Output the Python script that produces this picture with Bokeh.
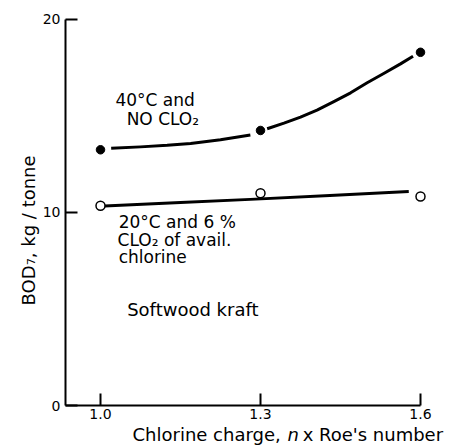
import math
from bokeh.plotting import figure
from bokeh.models import Range1d, FixedTicker, Label
from bokeh.embed import file_html
from bokeh.resources import INLINE

# ---- data ----
charge = [1.0, 1.3, 1.6]
bod_40C_no_clo2 = [13.25, 14.25, 18.3]
bod_20C_6pct_clo2 = [10.35, 11.0, 10.83]

# hand-drawn fitted curves
fit40_x_a = [1.02, 1.075, 1.125, 1.169, 1.225, 1.281]
fit40_y_a = [13.33, 13.40, 13.48, 13.58, 13.77, 14.02]
fit40_x_b = [1.3125, 1.344, 1.375, 1.406, 1.4375, 1.469, 1.5, 1.531, 1.5625, 1.586]
fit40_y_b = [14.34, 14.63, 14.94, 15.30, 15.74, 16.20, 16.72, 17.20, 17.70, 18.10]
fit20_x = [1.0075, 1.15, 1.281, 1.43, 1.578]
fit20_y = [10.34, 10.52, 10.68, 10.88, 11.09]

x_ticks = [1.0, 1.3, 1.6]
y_ticks = [0, 10, 20]
x_axis_extent = (0.9344, 1.6)
y_axis_extent = (0, 20)

FONT = "DejaVu Sans"

p = figure(width=452, height=446,
           x_range=Range1d(0.8125, 1.66), y_range=Range1d(-2.124, 20.984),
           output_backend="svg", toolbar_location=None)
p.min_border = 0
p.min_border_left = 0
p.min_border_right = 0
p.min_border_top = 0
p.min_border_bottom = 0
p.outline_line_color = None
p.xgrid.visible = False
p.ygrid.visible = False
p.background_fill_color = "white"
p.border_fill_color = "white"

for ax in (p.xaxis[0], p.yaxis[0]):
    ax.axis_line_width = 2
    ax.axis_line_color = "black"
    ax.major_tick_line_width = 2
    ax.major_tick_line_color = "black"
    ax.major_tick_in = 12
    ax.major_tick_out = 0
    ax.minor_tick_line_color = None
    ax.major_label_text_font = FONT
    ax.major_label_text_font_size = "14px"
    ax.major_label_text_color = "black"

p.xaxis[0].ticker = FixedTicker(ticks=x_ticks)
p.xaxis[0].major_label_overrides = {1.0: "1.0", 1.3: "1.3", 1.6: "1.6"}
p.xaxis[0].major_label_standoff = 3
p.xaxis[0].fixed_location = y_axis_extent[0]
p.xaxis[0].bounds = x_axis_extent
p.yaxis[0].ticker = FixedTicker(ticks=y_ticks)
p.yaxis[0].major_label_standoff = 5
p.yaxis[0].fixed_location = x_axis_extent[0]
p.yaxis[0].bounds = y_axis_extent

# curves
p.line(fit40_x_a, fit40_y_a, line_width=3, line_color="black", line_join="round")
p.line(fit40_x_b, fit40_y_b, line_width=3, line_color="black", line_join="round")
p.line(fit20_x, fit20_y, line_width=3, line_color="black", line_join="round")

# points
p.scatter(charge, bod_40C_no_clo2, size=8.5, fill_color="black", line_color="black")
p.scatter(charge, bod_20C_6pct_clo2, size=9, fill_color="white",
          line_color="black", line_width=1.5)

def lab(x, y, text, size="17px", align="left", style="normal", angle=0):
    p.add_layout(Label(x=x, y=y, text=text, text_font=FONT,
                       text_font_size=size, text_align=align,
                       text_baseline="middle", text_font_style=style,
                       text_color="black", angle=angle))

lab(1.028, 15.85, "40°C and")
lab(1.049, 14.87, "NO CLO₂")
lab(1.034, 9.53, "20°C and 6 %")
lab(1.032, 8.55, "CLO₂ of avail.")
lab(1.034, 7.67, "chlorine")
lab(1.05, 4.97, "Softwood  kraft", size="18px")

# axis titles
lab(0.865, 9.22, "BOD₇,  kg / tonne", size="18px", align="center", angle=math.pi / 2)
lab(1.06, -1.50, "Chlorine charge,", size="18px")
lab(1.3506, -1.50, "n", size="18px", style="italic")
lab(1.379, -1.50, "x Roe's number", size="18px")

open("out.html", "w").write(file_html(p, INLINE))
